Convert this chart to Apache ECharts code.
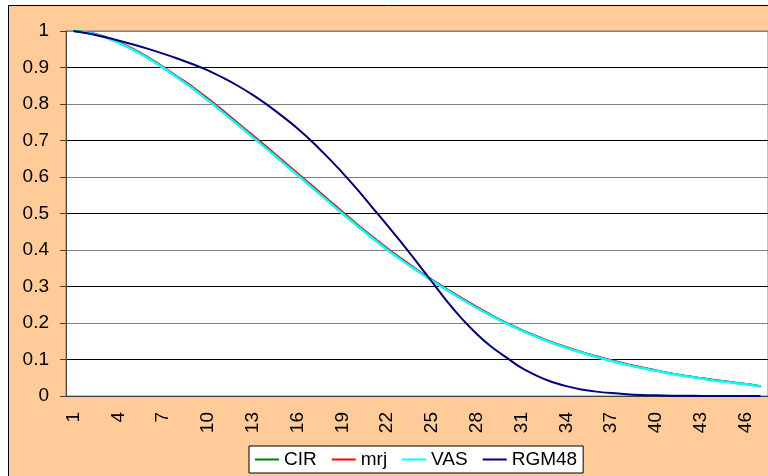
<!DOCTYPE html>
<html>
<head>
<meta charset="utf-8">
<script src="https://cdn.jsdelivr.net/npm/echarts@6/dist/echarts.min.js"></script>
<style>
  html, body { margin: 0; padding: 0; background: #fff; }
  #main { width: 768px; height: 476px; }
</style>
</head>
<body>
<div id="main"></div>
<script>
const CATEGORIES = ['1', '2', '3', '4', '5', '6', '7', '8', '9', '10',
  '11', '12', '13', '14', '15', '16', '17', '18', '19', '20',
  '21', '22', '23', '24', '25', '26', '27', '28', '29', '30',
  '31', '32', '33', '34', '35', '36', '37', '38', '39', '40',
  '41', '42', '43', '44', '45', '46', '47']

const CIR = [1.000, 0.995, 0.985, 0.969, 0.949, 0.926, 0.900, 0.872, 0.844, 0.812,
  0.779, 0.745, 0.711, 0.677, 0.642, 0.607, 0.572, 0.537, 0.502, 0.468,
  0.435, 0.403, 0.373, 0.344, 0.317, 0.291, 0.266, 0.242, 0.220, 0.199,
  0.180, 0.163, 0.147, 0.133, 0.120, 0.108, 0.097, 0.087, 0.078, 0.070,
  0.062, 0.055, 0.049, 0.043, 0.038, 0.033, 0.027]

const MRJ = [1.000, 0.996, 0.986, 0.970, 0.951, 0.928, 0.902, 0.874, 0.846, 0.815,
  0.782, 0.748, 0.714, 0.680, 0.645, 0.610, 0.575, 0.540, 0.505, 0.470,
  0.437, 0.405, 0.375, 0.346, 0.319, 0.293, 0.268, 0.244, 0.221, 0.200,
  0.181, 0.164, 0.148, 0.134, 0.121, 0.109, 0.098, 0.088, 0.079, 0.070,
  0.062, 0.055, 0.049, 0.043, 0.038, 0.033, 0.027]

const VAS = [1.000, 0.995, 0.984, 0.968, 0.948, 0.925, 0.899, 0.871, 0.842, 0.810,
  0.777, 0.743, 0.709, 0.675, 0.640, 0.605, 0.570, 0.535, 0.500, 0.466,
  0.433, 0.401, 0.371, 0.343, 0.316, 0.290, 0.265, 0.241, 0.219, 0.198,
  0.179, 0.162, 0.146, 0.132, 0.119, 0.107, 0.096, 0.086, 0.077, 0.069,
  0.061, 0.054, 0.048, 0.042, 0.037, 0.032, 0.026]

const RGM48 = [1.000, 0.993, 0.984, 0.974, 0.963, 0.951, 0.938, 0.924, 0.909, 0.892,
  0.872, 0.850, 0.825, 0.797, 0.766, 0.733, 0.696, 0.655, 0.612, 0.566,
  0.517, 0.468, 0.418, 0.366, 0.313, 0.260, 0.212, 0.170, 0.134, 0.105,
  0.077, 0.056, 0.039, 0.027, 0.018, 0.012, 0.008, 0.005, 0.003, 0.002,
  0.001, 0.0006, 0.0003, 0.0002, 0.0001, 0, 0]

const SERIES = [
  { name: 'CIR',   data: CIR,   color: '#008000', width: 2 },
  { name: 'mrj',   data: MRJ,   color: '#ff0000', width: 2 },
  { name: 'VAS',   data: VAS,   color: '#00ffff', width: 2.5 },
  { name: 'RGM48', data: RGM48, color: '#000080', width: 2 },
]

const FONT = 'Liberation Sans, Arial, sans-serif'

function buildOption() {
  return {
    animation: false,
    textStyle: { fontFamily: FONT },
    // peach chart area with its thin black frame
    graphic: [{
      type: 'rect', z: -10, silent: true,
      shape: { x: 8.5, y: 5.5, width: 780, height: 490 },
      style: { fill: '#ffcc99', stroke: '#000', lineWidth: 1 },
    }],
    grid: {
      left: 66, top: 31, width: 703, bottom: 80,
      show: true, backgroundColor: '#fff', borderColor: '#808080', borderWidth: 1,
    },
    legend: {
      left: 249, top: 446,
      padding: [4, 6, 4, 6],
      itemGap: 15, itemWidth: 24, itemHeight: 2,
      icon: 'rect',
      backgroundColor: '#fff', borderColor: '#000', borderWidth: 1,
      textStyle: { color: '#000', fontSize: 19, fontFamily: FONT },
      data: SERIES.map(s => s.name),
    },
    xAxis: {
      type: 'category',
      data: CATEGORIES,
      boundaryGap: true,
      axisLine: { lineStyle: { color: '#404040', width: 1 } },
      axisTick: { interval: 0, length: 6, lineStyle: { color: '#404040' } },
      axisLabel: { interval: 2, rotate: 90, margin: 16, color: '#000', fontSize: 19, fontFamily: FONT },
      splitLine: { show: false },
    },
    yAxis: {
      type: 'value',
      min: 0, max: 1, interval: 0.1,
      axisLine: { show: true, lineStyle: { color: '#404040', width: 1 } },
      axisTick: { show: true, length: 6, lineStyle: { color: '#404040' } },
      axisLabel: { margin: 17, color: '#000', fontSize: 19, fontFamily: FONT },
      splitLine: { lineStyle: { color: ['#808080', '#000'], width: 1 } },
    },
    series: SERIES.map(s => ({
      name: s.name, type: 'line',
      data: s.data,
      symbol: 'none',
      smooth: 0.3,
      color: s.color,
      lineStyle: { color: s.color, width: s.width },
    })),
  }
}

const chart = echarts.init(document.getElementById('main'), null, { renderer: 'canvas' })
chart.setOption(buildOption())
</script>
</body>
</html>
